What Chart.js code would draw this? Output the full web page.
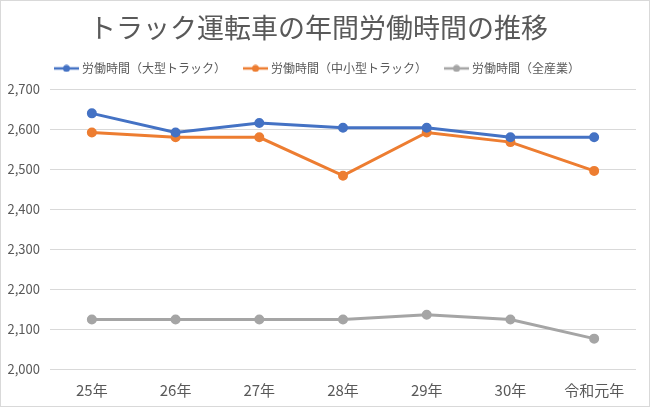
<!DOCTYPE html>
<html><head><meta charset="utf-8">
<script src="https://cdn.jsdelivr.net/npm/chart.js@4"></script>
<style>
html,body{margin:0;padding:0;background:#fff;}
#wrap{position:absolute;left:0;top:0;width:648px;height:405px;border:1px solid #d9d9d9;}
canvas{display:block;}
</style></head><body>
<div id="wrap"><canvas id="c" width="648" height="405"></canvas></div>
<script>
const categories = ["25年","26年","27年","28年","29年","30年","令和元年"];
const largeTruck = [2640,2592,2616,2604,2604,2580,2580];
const smallMidTruck = [2592,2580,2580,2484,2592,2568,2496];
const allIndustry = [2124,2124,2124,2124,2136,2124,2076];
const seriesNames = ["労働時間（大型トラック）","労働時間（中小型トラック）","労働時間（全産業）"];
const yTicks = [2000,2100,2200,2300,2400,2500,2600,2700];
const colors = ["#4472C4","#ED7D31","#A5A5A5"];
const FONT = "'Noto Sans CJK JP','Noto Sans',sans-serif";

function marker(color){
  const cv=document.createElement('canvas');cv.width=25;cv.height=8;
  const g=cv.getContext('2d');
  g.strokeStyle=color;g.lineWidth=2.5;g.beginPath();g.moveTo(0,4);g.lineTo(25,4);g.stroke();
  g.fillStyle=color;g.beginPath();g.arc(12.5,4,3.5,0,Math.PI*2);g.fill();
  return cv;
}
const markers = colors.map(marker);

const legendGap = {id:'legendGap', afterInit(chart){
  const lg = chart.legend; if(!lg) return;
  const orig = lg.fit.bind(lg);
  lg.fit = function(){ orig(); this.height += 5; };
}};

new Chart(document.getElementById('c'),{
  type:'line',
  data:{labels:categories,datasets:[
    {label:seriesNames[0],data:largeTruck},
    {label:seriesNames[1],data:smallMidTruck},
    {label:seriesNames[2],data:allIndustry}
  ].map((d,i)=>Object.assign(d,{borderColor:colors[i],backgroundColor:colors[i],borderWidth:3,pointRadius:3.5,pointHoverRadius:3.5,tension:0}))},
  plugins:[legendGap],
  options:{
    responsive:false,animation:false,
    layout:{padding:{left:0,right:13,top:0,bottom:3}},
    plugins:{
      title:{display:true,text:"トラック運転車の年間労働時間の推移",color:"#595959",font:{family:FONT,size:27,weight:'normal'},padding:{top:11,bottom:-2}},
      legend:{position:'top',labels:{color:"#595959",font:{family:FONT,size:12},usePointStyle:true,pointStyleWidth:19,boxHeight:8,padding:20,
        generateLabels:(chart)=>chart.data.datasets.map((d,i)=>({text:d.label,fillStyle:colors[i],strokeStyle:colors[i],pointStyle:markers[i],lineWidth:0,datasetIndex:i,fontColor:"#595959"}))}},
      tooltip:{enabled:false}
    },
    scales:{
      x:{offset:true,grid:{display:false},border:{display:false},ticks:{color:"#595959",font:{family:FONT,size:15},padding:4}},
      y:{min:yTicks[0],max:yTicks[yTicks.length-1],
        afterBuildTicks:(s)=>{s.ticks=yTicks.map(v=>({value:v}));},
        afterFit:(s)=>{s.width=49;},
        grid:{color:"#d9d9d9",lineWidth:1,drawTicks:false},border:{display:false},
        ticks:{color:"#595959",font:{family:FONT,size:13},padding:10,callback:(v)=>v.toLocaleString('en-US')}}
    }
  }
});
</script></body></html>
